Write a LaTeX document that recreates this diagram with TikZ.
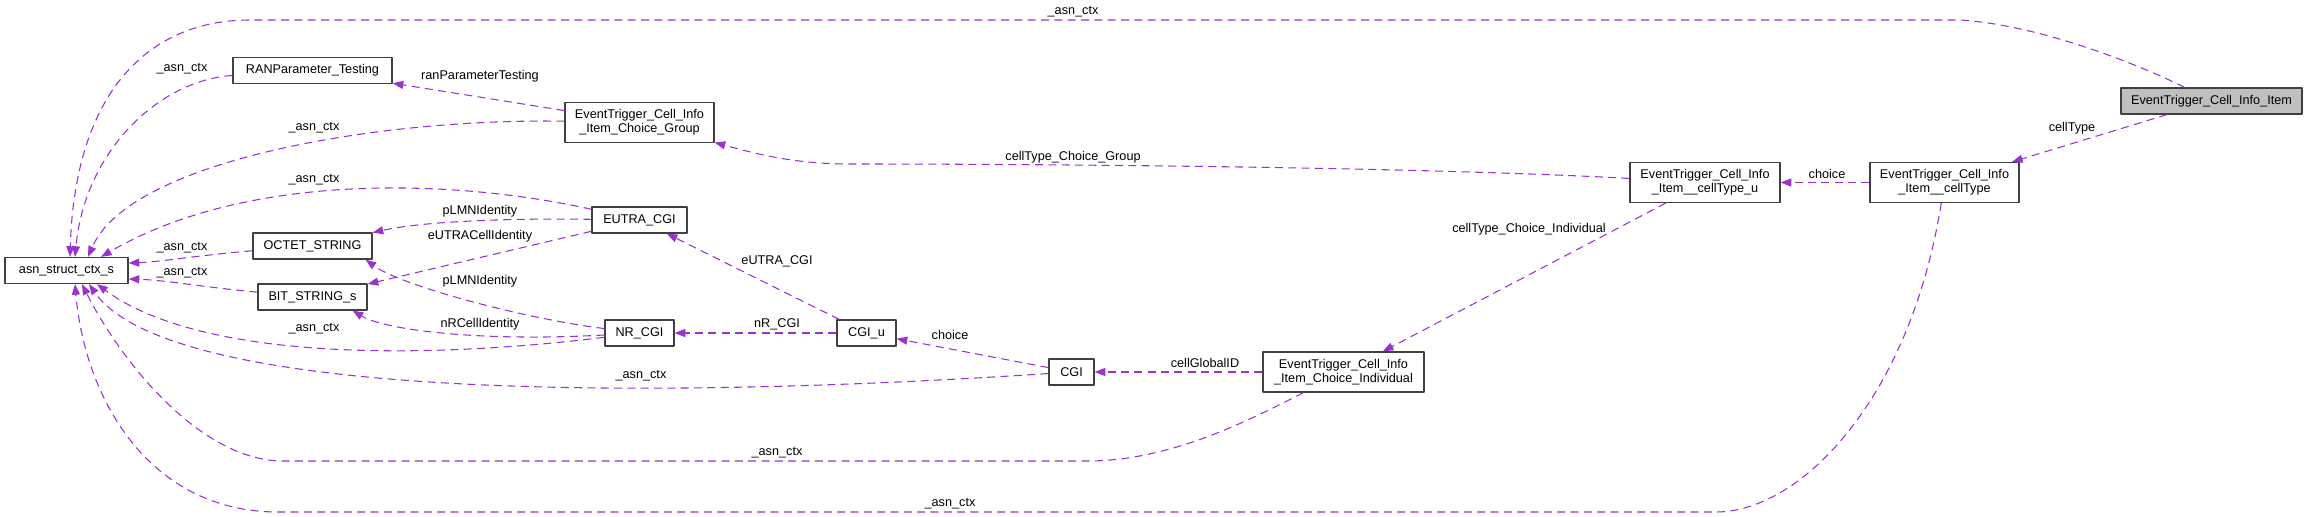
\documentclass[tikz,border=0pt]{standalone}
\usepackage{fontspec}
\setmainfont{Liberation Sans}
\usetikzlibrary{arrows.meta,calc}
\definecolor{edgecol}{RGB}{154,50,205}
\definecolor{boxline}{RGB}{64,64,64}
\definecolor{curfill}{RGB}{191,191,191}
\begin{document}
\begin{tikzpicture}[x=0.75pt,y=-0.75pt,line join=round,font=\fontsize{9.5}{10.5}\selectfont,
		cls/.style={draw=boxline,line width=0.9pt,fill=white,inner sep=1pt,align=center,minimum height=26*0.75pt},
		cls2/.style={cls,minimum height=40*0.75pt},
		rel/.style={draw=edgecol,line width=0.8pt,dash pattern=on 6pt off 4pt,-{Triangle[length=8pt,width=6pt]}},
		lbl/.style={inner sep=0pt}]
	\useasboundingbox (0,0) rectangle (2308,517);
	% classes
	\node[cls,minimum width=123*0.75pt] (asn) at (66.5,270.5) {asn\_struct\_ctx\_s};
	\node[cls,minimum width=159*0.75pt] (ran) at (312.5,70.5) {RANParameter\_Testing};
	\node[cls2,minimum width=149*0.75pt] (grp) at (639.5,122.5) {EventTrigger\_Cell\_Info\\\_Item\_Choice\_Group};
	\node[cls,minimum width=95*0.75pt] (eutra) at (639.5,220) {EUTRA\_CGI};
	\node[cls,minimum width=119*0.75pt] (octet) at (312.5,246) {OCTET\_STRING};
	\node[cls,minimum width=109*0.75pt] (bits) at (312.5,297) {BIT\_STRING\_s};
	\node[cls,minimum width=69*0.75pt] (nr) at (639.5,333) {NR\_CGI};
	\node[cls,minimum width=59*0.75pt] (cgiu) at (866.5,333) {CGI\_u};
	\node[cls,minimum width=45*0.75pt] (cgi) at (1071.5,372) {CGI};
	\node[cls2,minimum width=161*0.75pt] (indiv) at (1343.5,372) {EventTrigger\_Cell\_Info\\\_Item\_Choice\_Individual};
	\node[cls2,minimum width=150*0.75pt] (ctu) at (1705,182.5) {EventTrigger\_Cell\_Info\\\_Item\_\_cellType\_u};
	\node[cls2,minimum width=149*0.75pt] (ct) at (1944.5,182.5) {EventTrigger\_Cell\_Info\\\_Item\_\_cellType};
	\node[cls,fill=curfill,minimum width=181*0.75pt] (item) at (2211.5,101) {EventTrigger\_Cell\_Info\_Item};
	% _asn_ctx links
	\draw[rel] (item) .. controls (2140,65) and (2040,25) .. (1960,20) -- (250,20)
		.. controls (150,20) and (75,90) .. ($(asn.north)+(3.5,0)$) node[lbl] at (1073,12) {\_asn\_ctx};
	\draw[rel] (ran) .. controls (160,80) and (85,150) .. ($(asn.north)+(8.5,0)$) node[lbl] at (182,69) {\_asn\_ctx};
	\draw[rel] (grp) .. controls (380,118) and (130,160) .. ($(asn.north)+(21.5,0)$) node[lbl] at (314,128) {\_asn\_ctx};
	\draw[rel] (eutra) .. controls (460,180) and (250,170) .. ($(asn.north)+(34.5,0)$) node[lbl] at (314,180) {\_asn\_ctx};
	\draw[rel] (octet) .. controls (200,255) and (160,262) .. ($(asn.east)+(0,-7.5)$) node[lbl] at (182,248) {\_asn\_ctx};
	\draw[rel] (bits) .. controls (210,288) and (165,280) .. ($(asn.east)+(0,8.5)$) node[lbl] at (182,273) {\_asn\_ctx};
	\draw[rel] (nr) .. controls (420,360) and (200,360) .. ($(asn.south)+(30.5,0)$) node[lbl] at (314,329) {\_asn\_ctx};
	\draw[rel] (cgi) .. controls (650,400) and (170,400) .. ($(asn.south)+(22.5,0)$) node[lbl] at (641,376) {\_asn\_ctx};
	\draw[rel] (indiv) .. controls (1250,420) and (1170,461) .. (1088,461) -- (283,461)
		.. controls (200,461) and (120,360) .. ($(asn.south)+(15.5,0)$) node[lbl] at (777,453) {\_asn\_ctx};
	\draw[rel] (ct) .. controls (1910,400) and (1800,512) .. (1716,512) -- (278,512)
		.. controls (150,512) and (85,400) .. ($(asn.south)+(8.5,0)$) node[lbl] at (950,504) {\_asn\_ctx};
	% members
	\draw[rel] (grp) -- (ran) node[lbl] at (480,76) {ranParameterTesting};
	\draw[rel] (ctu) .. controls (1400,166) and (1000,164) .. (850,164)
		.. controls (790,164) and (750,152) .. (grp) node[lbl] at (1073,157) {cellType\_Choice\_Group};
	\draw[rel] (eutra) .. controls (500,218) and (420,222) .. (octet) node[lbl] at (480,211) {pLMNIdentity};
	\draw[rel] (eutra) -- (bits) node[lbl] at (480,236) {eUTRACellIdentity};
	\draw[rel] (nr) .. controls (520,318) and (400,285) .. ($(octet.south east)+(-7,0)$) node[lbl] at (480,281) {pLMNIdentity};
	\draw[rel] (nr) .. controls (480,342) and (385,330) .. ($(bits.south east)+(-15,0)$) node[lbl] at (480,324) {nRCellIdentity};
	\draw[rel] (cgiu) -- (eutra) node[lbl] at (777,261) {eUTRA\_CGI};
	\draw[rel] (cgiu) -- (nr) node[lbl] at (777,324) {nR\_CGI};
	\draw[rel] (cgi) -- (cgiu) node[lbl] at (950,335) {choice};
	\draw[rel] (indiv) -- (cgi) node[lbl] at (1205,363) {cellGlobalID};
	\draw[rel] (ctu) -- (indiv) node[lbl] at (1529,229) {cellType\_Choice\_Individual};
	\draw[rel] (ct) -- (ctu) node[lbl] at (1827,174) {choice};
	\draw[rel] (item) -- (ct) node[lbl] at (2072,128) {cellType};
\end{tikzpicture}
\end{document}
